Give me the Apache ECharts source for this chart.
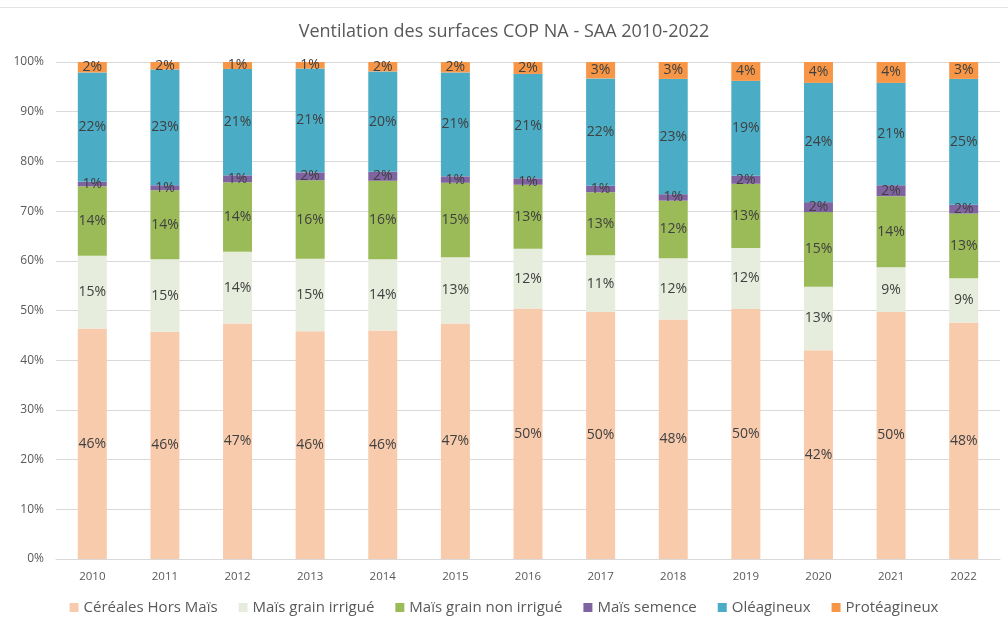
<!DOCTYPE html>
<html>
<head>
<meta charset="utf-8">
<script src="https://cdn.jsdelivr.net/npm/echarts@6/dist/echarts.min.js"></script>
<style>
  html, body { margin: 0; padding: 0; background: #fff; }
  #chart { width: 1008px; height: 629px; }
</style>
</head>
<body>
<div id="chart"></div>
<script>
// années
const years = ['2010','2011','2012','2013','2014','2015','2016','2017','2018','2019','2020','2021','2022'];

// parts en %
const cerealesHorsMais = [46.4, 45.7, 47.4, 45.8, 46.0, 47.4, 50.4, 49.7, 48.2, 50.3, 42.0, 49.7, 47.6];
const maisIrrigue      = [14.6, 14.6, 14.4, 14.6, 14.3, 13.3, 12.0, 11.4, 12.3, 12.3, 12.8, 9.0, 8.9];
const maisNonIrrigue   = [14.0, 13.9, 14.0, 15.8, 15.8, 15.0, 12.9, 12.7, 11.6, 12.9, 15.0, 14.3, 13.0];
const maisSemence      = [0.9, 1.0, 1.4, 1.6, 1.8, 1.3, 1.3, 1.3, 1.3, 1.6, 2.0, 2.2, 1.8];
const oleagineux       = [22.0, 23.3, 21.4, 20.9, 20.2, 20.9, 21.0, 21.6, 23.2, 19.1, 24.0, 20.6, 25.3];
const proteagineux     = [2.1, 1.5, 1.4, 1.3, 1.9, 2.1, 2.4, 3.3, 3.4, 3.8, 4.2, 4.2, 3.4];

const yTicks = [0, 10, 20, 30, 40, 50, 60, 70, 80, 90, 100];

const seriesDefs = [
    { name: 'Céréales Hors Maïs', data: cerealesHorsMais, color: '#F8CBAD' },
    { name: 'Maïs grain irrigué', data: maisIrrigue, color: '#E6EDDC' },
    { name: 'Maïs grain non irrigué', data: maisNonIrrigue, color: '#9BBB59' },
    { name: 'Maïs semence', data: maisSemence, color: '#8064A2' },
    { name: 'Oléagineux', data: oleagineux, color: '#4BACC6' },
    { name: 'Protéagineux', data: proteagineux, color: '#F79646' }
];

const font = "'Open Sans', 'Noto Sans', sans-serif";

const chart = echarts.init(document.getElementById('chart'));
const option = {
    backgroundColor: '#fff',
    animation: false,
    title: {
        text: 'Ventilation des surfaces COP NA - SAA 2010-2022',
        left: 'center',
        top: 18,
        textStyle: { color: '#595959', fontSize: 18, fontWeight: 'normal', fontFamily: font }
    },
    graphic: [{
        type: 'line',
        shape: { x1: 0, y1: 7.5, x2: 1008, y2: 7.5 },
        style: { stroke: '#e3e3e3', lineWidth: 1 }
    }],
    legend: {
        bottom: 9,
        left: 'center',
        itemWidth: 9,
        itemHeight: 9,
        itemGap: 21,
        icon: 'rect',
        textStyle: { color: '#595959', fontSize: 15, fontFamily: font }
    },
    grid: { left: 56, right: 8, top: 62, bottom: 70 },
    xAxis: {
        type: 'category',
        data: years,
        axisTick: { show: false },
        axisLine: { lineStyle: { color: '#d9d9d9' } },
        axisLabel: { color: '#595959', fontSize: 11.5, fontFamily: font, margin: 12 }
    },
    yAxis: {
        type: 'value',
        min: yTicks[0],
        max: yTicks[yTicks.length - 1],
        interval: 10,
        axisLine: { show: false },
        axisTick: { show: false },
        splitLine: { lineStyle: { color: '#d9d9d9' } },
        axisLabel: { color: '#595959', fontSize: 12, fontFamily: font, margin: 12, formatter: '{value}%' }
    },
    series: seriesDefs.map(s => ({
        name: s.name,
        type: 'bar',
        stack: 'total',
        barWidth: 29,
        data: s.data,
        itemStyle: { color: s.color },
        label: {
            show: true,
            position: 'inside',
            color: '#404040',
            fontSize: 14,
            fontFamily: font,
            formatter: p => Math.round(p.value) + '%'
        }
    }))
};
chart.setOption(option);
</script>
</body>
</html>
